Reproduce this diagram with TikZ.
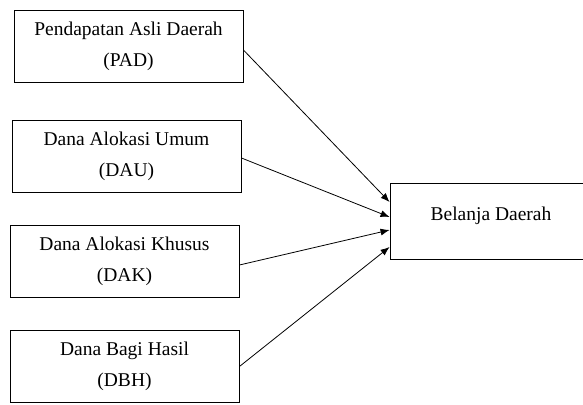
\documentclass[tikz,border=0pt]{standalone}
\usepackage{fontspec}
\setmainfont{Liberation Serif}
\usetikzlibrary{arrows.meta}

\begin{document}
\begin{tikzpicture}[x=1pt, y=-1pt,
    var/.style={rectangle, draw, line width=0.9pt, minimum width=229pt, minimum height=72pt,
        align=center, font=\fontsize{19.5}{31}\selectfont},
    arr/.style={-{Latex[length=9pt,width=7pt]}, line width=0.8pt}]
    \clip (0,0) rectangle (583,404);
    \node[var] (pad) at (128.5,46) {Pendapatan Asli Daerah\\(PAD)};
    \node[var] (dau) at (126.5,156.5) {Dana Alokasi Umum\\(DAU)};
    \node[var] (dak) at (124.5,261.5) {Dana Alokasi Khusus\\(DAK)};
    \node[var] (dbh) at (124.5,366.5) {Dana Bagi Hasil\\(DBH)};
    \node[rectangle, draw, line width=0.9pt, minimum width=202pt, minimum height=76pt,
        text depth=14pt, font=\fontsize{19.5}{31}\selectfont] (bd) at (491,221) {Belanja Daerah};
    \draw[arr] ([yshift=-4pt]pad.east) -- ([yshift=19pt]bd.west);
    \draw[arr] ([yshift=-1.5pt]dau.east) -- ([yshift=4pt]bd.west);
    \draw[arr] ([yshift=-3.5pt]dak.east) -- ([yshift=-9pt]bd.west);
    \draw[arr] (dbh.east) -- ([yshift=-26pt]bd.west);
\end{tikzpicture}
\end{document}
